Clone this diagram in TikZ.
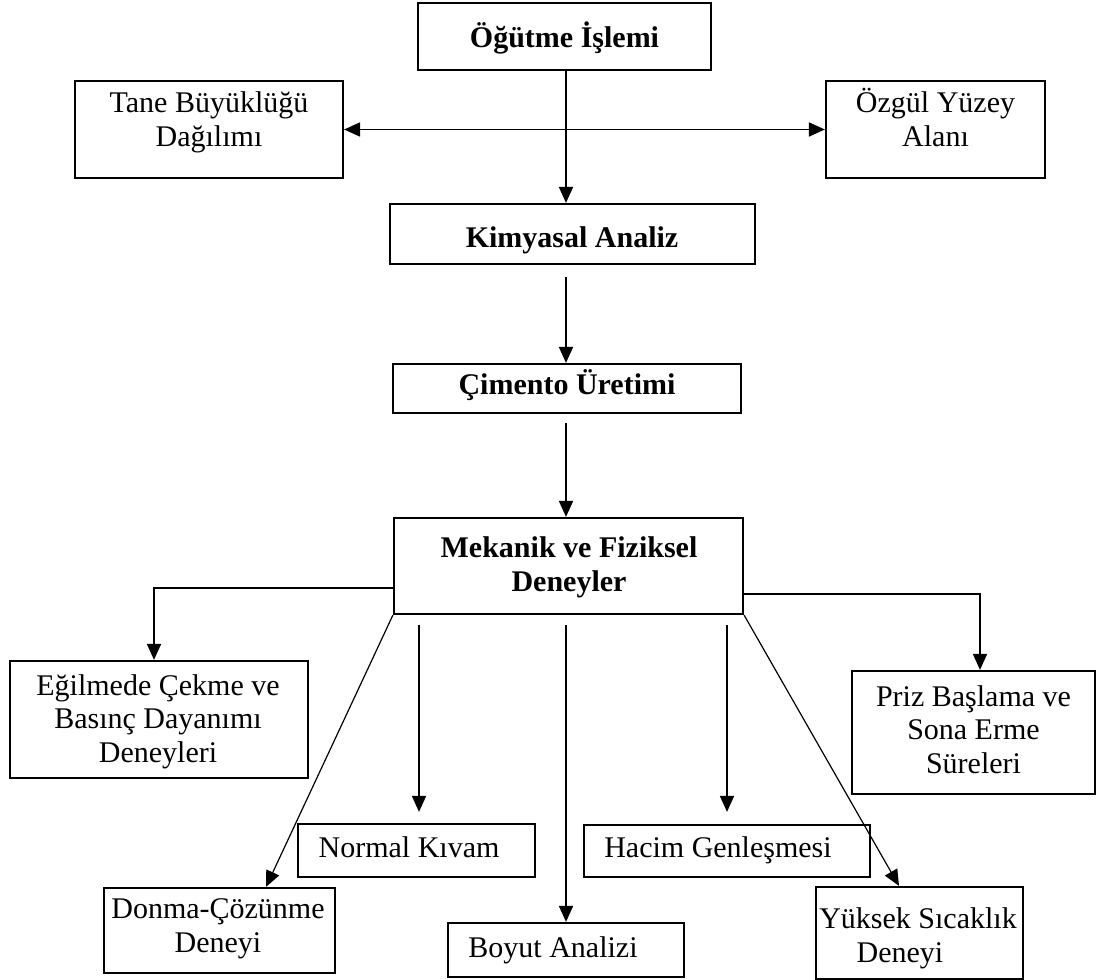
\documentclass[tikz,border=0pt]{standalone}
\usepackage{fontspec}
\setmainfont{Liberation Serif}
\usetikzlibrary{arrows.meta,calc}
\begin{document}
\begin{tikzpicture}[x=0.5pt,y=-0.5pt,
  box/.style={draw, line width=1.1pt, inner sep=0pt},
  txt/.style={font=\fontsize{15}{16.75}\selectfont, align=center, inner sep=0pt, anchor=base},
  btxt/.style={txt, font=\fontsize{15}{16.75}\selectfont\bfseries},
  arr/.style={-{Triangle[length=8pt,width=7pt]}, line width=0.9pt},
  darr/.style={{Triangle[length=8pt,width=7pt]}-{Triangle[length=8pt,width=7pt]}, line width=0.9pt},
  diag/.style={-{Triangle[length=8pt,width=7pt]}, line width=0.6pt}]
\useasboundingbox (0,0) rectangle (1104,980);
% boxes
\node[box, minimum width=146.5pt, minimum height=33.5pt] (og)   at (564.5,36.5) {};
\node[box, minimum width=134pt,   minimum height=48.5pt] (tane) at (209,129.5) {};
\node[box, minimum width=109.5pt, minimum height=48.5pt] (ozg)  at (935.5,129.5) {};
\node[box, minimum width=182.5pt, minimum height=30pt]   (kim)  at (572.5,234) {};
\node[box, minimum width=174pt,   minimum height=24.5pt] (cim)  at (567,388.5) {};
\node[box, minimum width=174.5pt, minimum height=48pt]   (mek)  at (568.5,566) {};
\node[box, minimum width=149pt,   minimum height=58.5pt] (egil) at (159,719.5) {};
\node[box, minimum width=121.5pt, minimum height=61.5pt] (prz)  at (973.5,732.5) {};
\node[box, minimum width=118.5pt, minimum height=26.5pt] (nrm)  at (416.5,850.5) {};
\node[box, minimum width=143pt,   minimum height=26pt]   (hac)  at (727,851) {};
\node[box, minimum width=115.5pt, minimum height=42.5pt] (don)  at (219.5,930.5) {};
\node[box, minimum width=118pt,   minimum height=27pt]   (boy)  at (566,950) {};
\node[box, minimum width=103.5pt, minimum height=46pt]   (yuk)  at (919.5,933) {};
% texts (base anchor = baseline of the last line)
\node[btxt] (ogT)   at (564.5,47)  {Öğütme İşlemi};
\node[txt]  (taneT) at (209,146)   {Tane Büyüklüğü\\Dağılımı};
\node[txt]  (ozgT)  at (935.5,146) {Özgül Yüzey\\Alanı};
\node[btxt] (kimT)  at (572,247)   {Kimyasal Analiz};
\node[btxt] (cimT)  at (567,394)   {Çimento Üretimi};
\node[btxt] (mekT)  at (569,591)   {Mekanik ve Fiziksel\\Deneyler};
\node[txt]  (egilT) at (158,762)   {Eğilmede Çekme ve\\Basınç Dayanımı\\Deneyleri};
\node[txt]  (przT)  at (973.5,773) {Priz Başlama ve\\Sona Erme\\Süreleri};
\node[txt]  (nrmT)  at (409,857)   {Normal Kıvam};
\node[txt]  (hacT)  at (718,857)   {Hacim Genleşmesi};
\node[txt]  (donT)  at (218,952)   {Donma-Çözünme\\Deneyi};
\node[txt]  (boyT)  at (553,957)   {Boyut Analizi};
\node[txt]  (yukT)  at (918,962)   {Yüksek Sıcaklık\\Deneyi\hspace*{18pt}};
% helper coordinates
\coordinate (c566) at (566,0);
\coordinate (c154) at (154,0);
\coordinate (c980) at (980,0);
\coordinate (c419) at (419,0);
\coordinate (c727) at (727,0);
\coordinate (c266) at (266,0);
\coordinate (c899) at (899,0);
\coordinate (yL) at (0,588);
\coordinate (yR) at (0,594);
% connectors
\draw[arr] (og.south -| c566) -- (kim.north -| c566);
\draw[darr] (tane.east) -- (ozg.west);
\draw[arr, shorten <=6pt] (kim.south -| c566) -- (cim.north -| c566);
\draw[arr, shorten <=4.5pt] (cim.south -| c566) -- (mek.north -| c566);
\draw[arr] (mek.west |- yL) -| (egil.north -| c154);
\draw[arr] (mek.east |- yR) -| (prz.north -| c980);
\draw[arr, shorten <=5pt, shorten >=5.5pt] (mek.south -| c419) -- (nrm.north -| c419);
\draw[arr, shorten <=5pt] (mek.south -| c566) -- (boy.north -| c566);
\draw[arr, shorten <=5pt, shorten >=6pt] (mek.south -| c727) -- (hac.north -| c727);
\draw[diag] (mek.south west) -- (don.north -| c266);
\draw[diag] (mek.south east) -- (yuk.north -| c899);
\end{tikzpicture}
\end{document}
